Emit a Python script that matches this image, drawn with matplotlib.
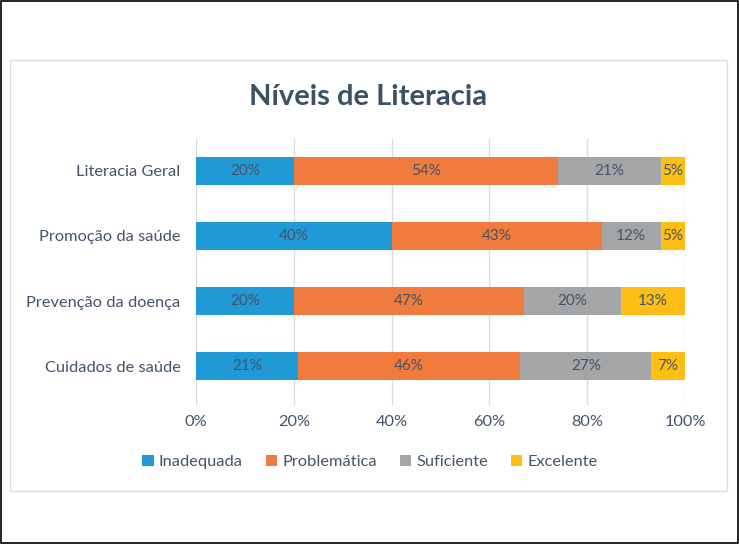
import numpy as np
import matplotlib.pyplot as plt
from matplotlib.patches import Rectangle

categories = ["Cuidados de saúde", "Prevenção da doença", "Promoção da saúde", "Literacia Geral"]
series = ["Inadequada", "Problemática", "Suficiente", "Excelente"]
inadequada = [21, 20, 40, 20]
problematica = [46, 47, 43, 54]
suficiente = [27, 20, 12, 21]
excelente = [7, 13, 5, 5]
colors = ["#1f9ad6", "#f07b3c", "#a3a5a7", "#fdbf16"]
txt = "#44546a"

plt.rcParams['font.family'] = ['Lato', 'DejaVu Sans']

data = np.array([inadequada, problematica, suficiente, excelente], dtype=float)
shares = data / data.sum(axis=0) * 100

fig = plt.figure(figsize=(7.39, 5.44), dpi=100)
# outer black frame and inner light chart frame
fig.patches.append(Rectangle((0.001, 0.001), 0.997, 0.997, transform=fig.transFigure,
                             fill=False, edgecolor="black", linewidth=1.2))
fig.patches.append(Rectangle((10 / 739, 1 - 491 / 544), 717 / 739, 431 / 544,
                             transform=fig.transFigure, fill=False,
                             edgecolor="#d9dde1", linewidth=1))

ax = fig.add_axes([196 / 739, 1 - 405 / 544, 489 / 739, 266.5 / 544])
y = np.arange(len(categories))
left = np.zeros(len(categories))
for i, name in enumerate(series):
    bars = ax.barh(y, shares[i], left=left, height=0.42, color=colors[i], label=name, zorder=3)
    for j, b in enumerate(bars):
        ax.text(left[j] + shares[i][j] / 2, y[j], f"{data[i][j]:.0f}%",
                ha="center", va="center", fontsize=11, color=txt, zorder=4)
    left += shares[i]

ax.set_xlim(0, 100)
ax.set_ylim(-0.6, 3.5)
ax.set_xticks([0, 20, 40, 60, 80, 100])
ax.set_xticklabels([f"{v}%" for v in [0, 20, 40, 60, 80, 100]])
ax.set_yticks(y)
ax.set_yticklabels(categories)
ax.tick_params(axis="both", length=0, labelsize=11.8, colors=txt)
ax.tick_params(axis="x", pad=7)
ax.tick_params(axis="y", pad=11)
ax.grid(axis="x", color="#d9dde1", linewidth=1, zorder=0)
for s in ax.spines.values():
    s.set_visible(False)

fig.text(368 / 739, 1 - 97 / 544, "Níveis de Literacia", ha="center", va="center",
         fontsize=21, fontweight="bold", color="#3b5166")

fig.legend(loc="center", bbox_to_anchor=(370 / 739, 1 - 462 / 544), ncol=4, frameon=False,
           fontsize=11.8, labelcolor=txt, handlelength=0.7, handleheight=0.7,
           handletextpad=0.3, columnspacing=1.4)

plt.savefig("out.png", dpi=100)
